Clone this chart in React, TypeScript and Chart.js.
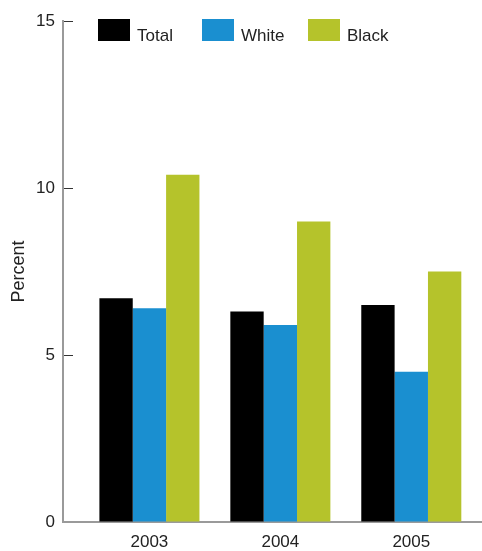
import React, { useEffect, useRef } from 'react';
import { Chart, registerables } from 'chart.js';

Chart.register(...registerables);

const categories = ['2003', '2004', '2005'];
const seriesNames = ['Total', 'White', 'Black'];
const totalValues = [6.7, 6.3, 6.5];
const whiteValues = [6.4, 5.9, 4.5];
const blackValues = [10.4, 9.0, 7.5];
const yTicks = [0, 5, 10, 15];

const FONT = "Arial, 'Liberation Sans', Helvetica, sans-serif";
const COLORS = ['#000000', '#1a8fd0', '#b5c32b'];
const TEXT_COLOR = '#222222';
const AXIS_COLOR = '#9a9a9a';

const LEGEND_BOX_X = [98, 202, 308];
const LEGEND_BOX_Y = 19;
const LEGEND_BOX_W = 32;
const LEGEND_BOX_H = 22;
const LEGEND_TEXT_GAP = 7;
const LEGEND_BASELINE = 41;

const legendPlugin = {
  id: 'customLegend',
  afterDraw(chart: any) {
    const ctx = chart.ctx;
    ctx.save();
    ctx.font = `17px ${FONT}`;
    ctx.textBaseline = 'alphabetic';
    ctx.textAlign = 'left';
    chart.data.datasets.forEach((ds: any, i: number) => {
      ctx.fillStyle = ds.backgroundColor;
      ctx.fillRect(LEGEND_BOX_X[i], LEGEND_BOX_Y, LEGEND_BOX_W, LEGEND_BOX_H);
      ctx.fillStyle = TEXT_COLOR;
      ctx.fillText(ds.label, LEGEND_BOX_X[i] + LEGEND_BOX_W + LEGEND_TEXT_GAP, LEGEND_BASELINE);
    });
    ctx.restore();
  },
};

export default function App() {
  const canvasRef = useRef<HTMLCanvasElement | null>(null);

  useEffect(() => {
    document.body.style.margin = '0';
    const canvas = canvasRef.current;
    if (!canvas) return;
    const seriesValues = [totalValues, whiteValues, blackValues];
    const chart = new Chart(canvas, {
      type: 'bar',
      data: {
        datasets: seriesNames.map((name, si) => ({
          label: name,
          data: seriesValues[si].map((v, i) => ({ x: i, y: v })),
          backgroundColor: COLORS[si],
          borderWidth: 0,
          categoryPercentage: 0.764,
          barPercentage: 1,
        })),
      },
      options: {
        responsive: false,
        animation: false,
        devicePixelRatio: 1,
        layout: { padding: { top: 21, right: 0, bottom: 0, left: 0 } },
        plugins: {
          legend: { display: false },
          tooltip: { enabled: false },
        },
        scales: {
          x: {
            type: 'linear',
            offset: false,
            min: -0.66,
            max: 2.54,
            afterBuildTicks: (s: any) => {
              s.ticks = categories.map((_, i) => ({ value: i }));
            },
            afterFit: (s: any) => {
              s.height = 29;
              s.paddingLeft = 0;
              s.paddingRight = 0;
            },
            ticks: {
              callback: (v: any) => categories[v] ?? '',
              font: { family: FONT, size: 17 },
              color: TEXT_COLOR,
              padding: 10,
              maxRotation: 0,
              autoSkip: false,
            },
            grid: { display: true, offset: false, drawOnChartArea: false, drawTicks: false },
            border: { display: true, color: AXIS_COLOR, width: 2 },
          },
          y: {
            type: 'linear',
            min: 0,
            max: 15,
            afterBuildTicks: (s: any) => {
              s.ticks = yTicks.map((v) => ({ value: v }));
            },
            afterFit: (s: any) => {
              s.width = 63;
              s.paddingTop = 0;
              s.paddingBottom = 0;
            },
            ticks: {
              font: { family: FONT, size: 17 },
              color: TEXT_COLOR,
              padding: 18,
            },
            grid: {
              drawOnChartArea: false,
              drawTicks: true,
              tickLength: -10,
              color: '#333333',
              lineWidth: 1,
            },
            border: { display: true, color: AXIS_COLOR, width: 2 },
            title: {
              display: true,
              text: 'Percent',
              font: { family: FONT, size: 18 },
              color: TEXT_COLOR,
              padding: { top: 8, bottom: 0 },
            },
          },
        },
      },
      plugins: [legendPlugin],
    } as any);
    return () => chart.destroy();
  }, []);

  return <canvas ref={canvasRef} width={482} height={551} style={{ display: 'block' }} />;
}
